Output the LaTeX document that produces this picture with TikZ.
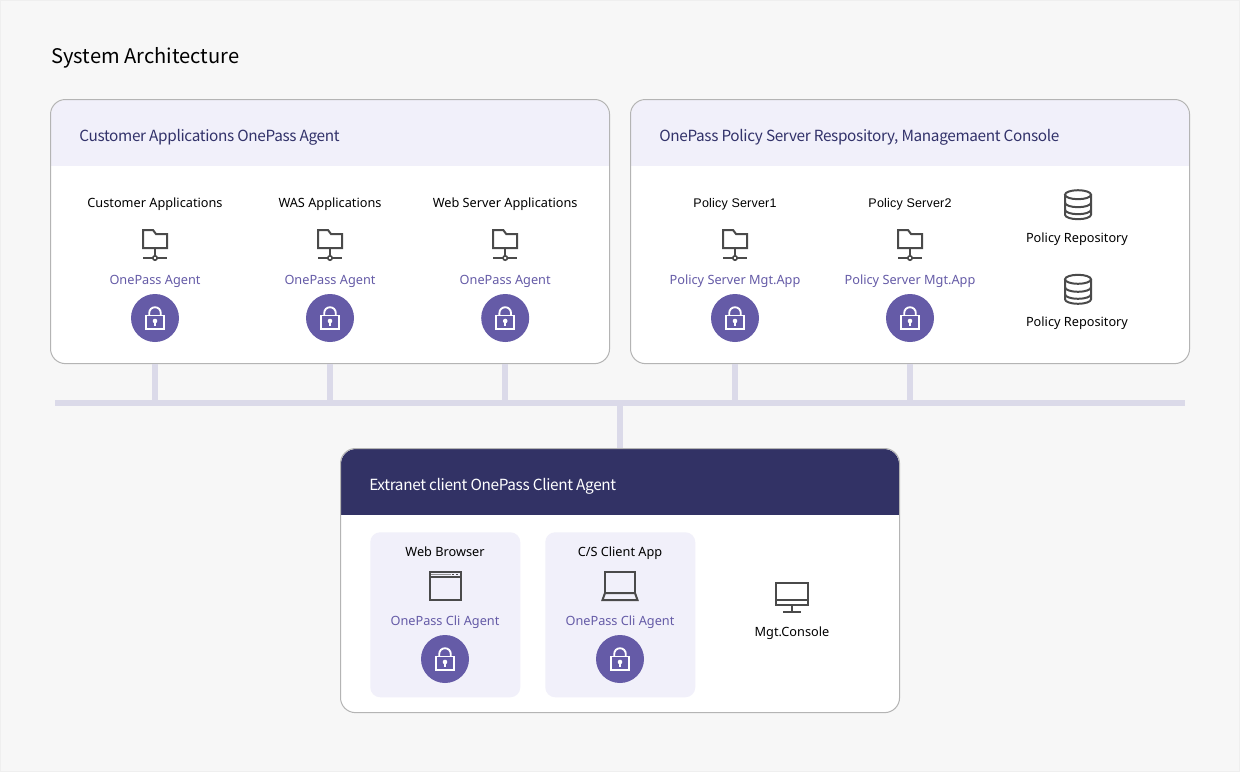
\documentclass[tikz,border=0pt]{standalone}
\usepackage{fontspec}
\setmainfont{Noto Sans}
\newfontfamily\headfont{Noto Sans CJK KR}
\newfontfamily\headtight[LetterSpace=-2.2]{Noto Sans CJK KR}
\newfontfamily\arialfont[LetterSpace=1.5]{Liberation Sans}
\definecolor{pagebg}{HTML}{F7F7F7}
\definecolor{pageedge}{HTML}{EFEFEF}
\definecolor{panelhead}{HTML}{F1F0FA}
\definecolor{paneledge}{HTML}{B4B4B4}
\definecolor{headtext}{HTML}{32326A}
\definecolor{darkhead}{HTML}{323265}
\definecolor{bus}{HTML}{DBDAE9}
\definecolor{accent}{HTML}{655BA7}
\definecolor{icon}{HTML}{4A4A4A}
\tikzset{
  x=0.75pt,y=-0.75pt,
  panelbox/.style={fill=white,rounded corners=11.25pt},
  paneloutline/.style={draw=paneledge,line width=0.75pt,rounded corners=11.25pt},
  head/.style={anchor=base west,font=\headtight\fontsize{11.5}{14}\selectfont,text=headtext,inner sep=0pt},
  lab/.style={anchor=base,font=\fontsize{9.55}{11}\selectfont,text=black,inner sep=0pt},
  agent/.style={anchor=base,font=\fontsize{9.55}{11}\selectfont,text=accent,inner sep=0pt},
  lockdisc/.style={circle,fill=accent,minimum size=36pt,inner sep=0pt},
  ic/.style={draw=icon,line width=1.5pt,line join=miter},
  busline/.style={draw=bus,line width=4.5pt},
  subbox/.style={fill=panelhead,rounded corners=7.5pt},
  pics/folder/.style={code={
    \draw[ic] (-12,9) -- (-12,-9) -- (-2,-9) -- (1,-5) -- (12,-5) -- (12,9) -- cycle;
    \draw[ic] (0,9) -- (0,19);
    \draw[ic] (-12,19) -- (12,19);
    \fill[white] (0,19) circle (2.2);
    \draw[icon,line width=1.2pt] (0,19) circle (2.2);
  }},
  pics/lock/.style={code={
    \draw[white,line width=1.4pt] (-9,-2.5) rectangle (9,11);
    \draw[white,line width=1.4pt] (-5.8,-2.5) -- (-5.8,-5) arc[start angle=180,end angle=0,x radius=5.8,y radius=-5.8] -- (5.8,-2.5);
    \fill[white] (0,3) circle (2.3);
    \fill[white] (-1.2,3) rectangle (1.2,7.5);
  }},
  pics/database/.style={code={
    \draw[ic] (-13,-10) -- (-13,10) arc[start angle=180,end angle=360,x radius=13,y radius=-4.5] -- (13,-10);
    \draw[ic] (0,-10) ellipse[x radius=13,y radius=4.5];
    \draw[ic] (-13,-2) arc[start angle=180,end angle=360,x radius=13,y radius=-4.5];
    \draw[ic] (-13,5) arc[start angle=180,end angle=360,x radius=13,y radius=-4.5];
  }},
  pics/browser/.style={code={
    \draw[ic] (-15.5,-14) rectangle (15.5,14);
    \draw[icon,line width=1.1pt] (-15.5,-9) -- (15.5,-9);
    \draw[icon!60,line width=1.1pt] (-14,-11.5) -- (6,-11.5);
    \draw[icon,line width=1.1pt,dash pattern=on 1.5pt off 1.5pt] (7,-11.5) -- (15,-11.5);
  }},
  pics/laptop/.style={code={
    \draw[ic] (-15,7) -- (-15,-14) -- (15,-14) -- (15,7);
    \draw[ic] (-15,7) -- (-17.5,14) -- (17.5,14) -- (15,7) -- cycle;
  }},
  pics/monitor/.style={code={
    \draw[ic] (-16,-14) rectangle (16,7.5);
    \draw[ic] (-16,3) -- (16,3);
    \draw[ic] (0,7.5) -- (0,14.5);
    \draw[ic] (-9,14.5) -- (9,14.5);
  }},
}
\newcommand{\agentcol}[4]{% name, x, top label, agent label
  \node[lab] (#1t) at (#2,207.6) {#3};
  \pic at (#2,239) {folder};
  \node[agent] (#1a) at (#2,284) {#4};
  \node[lockdisc] (#1l) at (#2,318) {};
  \pic at (#2,318) {lock};
}
\newcommand{\clientcol}[6]{% name, box left, center x, top label, icon, agent label
  \node[subbox,minimum width=112.5pt,minimum height=123.75pt,inner sep=0pt,anchor=north west] (#1b) at (#2,532) {};
  \node[lab] (#1t) at (#3,556) {#4};
  \pic at (#3,586) {#5};
  \node[agent] (#1a) at (#3,625) {#6};
  \node[lockdisc] (#1l) at (#3,659) {};
  \pic at (#3,659) {lock};
}
\begin{document}
\begin{tikzpicture}
\useasboundingbox (0,0) rectangle (1240,772);
\draw[draw=pageedge,fill=pagebg,line width=0.75pt] (0.5,0.5) rectangle (1239.5,771.5);
\node[anchor=base west,font=\headfont\fontsize{15.1}{18}\selectfont,text=black,inner sep=0pt] (title) at (51,63.2) {System Architecture};

% panels
\node[panelbox,minimum width=418.9pt,minimum height=197.7pt,inner sep=0pt,anchor=north west] (p1) at (50.5,99.5) {};
\node[panelbox,minimum width=418.9pt,minimum height=197.7pt,inner sep=0pt,anchor=north west] (p2) at (630.5,99.5) {};
\node[panelbox,minimum width=418.9pt,minimum height=197.7pt,inner sep=0pt,anchor=north west] (p3) at (340.5,448.5) {};

% headers
\fill[panelhead,rounded corners=11.25pt] (51,100) -- (609,100) -- (609,180) -- (51,180) -- cycle;
\fill[panelhead,rounded corners=11.25pt] (631,100) -- (1189,100) -- (1189,180) -- (631,180) -- cycle;
\fill[darkhead,rounded corners=11.25pt] (341,449) -- (899,449) -- (899,530) -- (341,530) -- cycle;
\fill[white] (51,166) rectangle (609,185);
\fill[white] (631,166) rectangle (1189,185);
\fill[white] (341,515) rectangle (899,535);
\draw[paneloutline] (p1.north west) rectangle (p1.south east);
\draw[paneloutline] (p2.north west) rectangle (p2.south east);
\draw[paneloutline] (p3.north west) rectangle (p3.south east);

\node[head] (h1) at (79,141.5) {Customer Applications OnePass Agent};
\node[head] (h2) at (659,141.5) {OnePass Policy Server Respository, Managemaent Console};
\node[head,text=white] (h3) at (369,490.5) {Extranet client OnePass Client Agent};

% customer panel
\agentcol{a}{155}{Customer Applications}{OnePass Agent}
\agentcol{b}{330}{WAS Applications}{OnePass Agent}
\agentcol{c}{505.2}{Web Server Applications}{OnePass Agent}
% policy panel
\agentcol{d}{735}{\arialfont\fontsize{9.4}{11}\selectfont Policy Server1}{Policy Server Mgt.App}
\agentcol{e}{910}{\arialfont\fontsize{9.4}{11}\selectfont Policy Server2}{Policy Server Mgt.App}
\pic at (1078,204.7) {database};
\node[lab] (r1) at (1077,242.7) {Policy Repository};
\pic at (1078,289.3) {database};
\node[lab] (r2) at (1077,326.7) {Policy Repository};
% client panel
\clientcol{f}{370}{445}{Web Browser}{browser}{OnePass Cli Agent}
\clientcol{g}{545}{620}{C/S Client App}{laptop}{OnePass Cli Agent}
\pic at (792,597) {monitor};
\node[lab] (m) at (792,636) {Mgt.Console};

% bus
\coordinate (busL) at (55,403);
\coordinate (busR) at (1185,403);
\draw[busline] (busL) -- (busR);
\foreach \n/\px in {a/155,b/330,c/505,d/735,e/910}{
  \coordinate (top\n) at (\px,364);
  \coordinate (bot\n) at (\px,403);
  \draw[busline] (top\n) -- (bot\n);
}
\coordinate (busM) at (620,403);
\coordinate (p3top) at (620,448);
\draw[busline] (busM) -- (p3top);
\end{tikzpicture}
\end{document}
